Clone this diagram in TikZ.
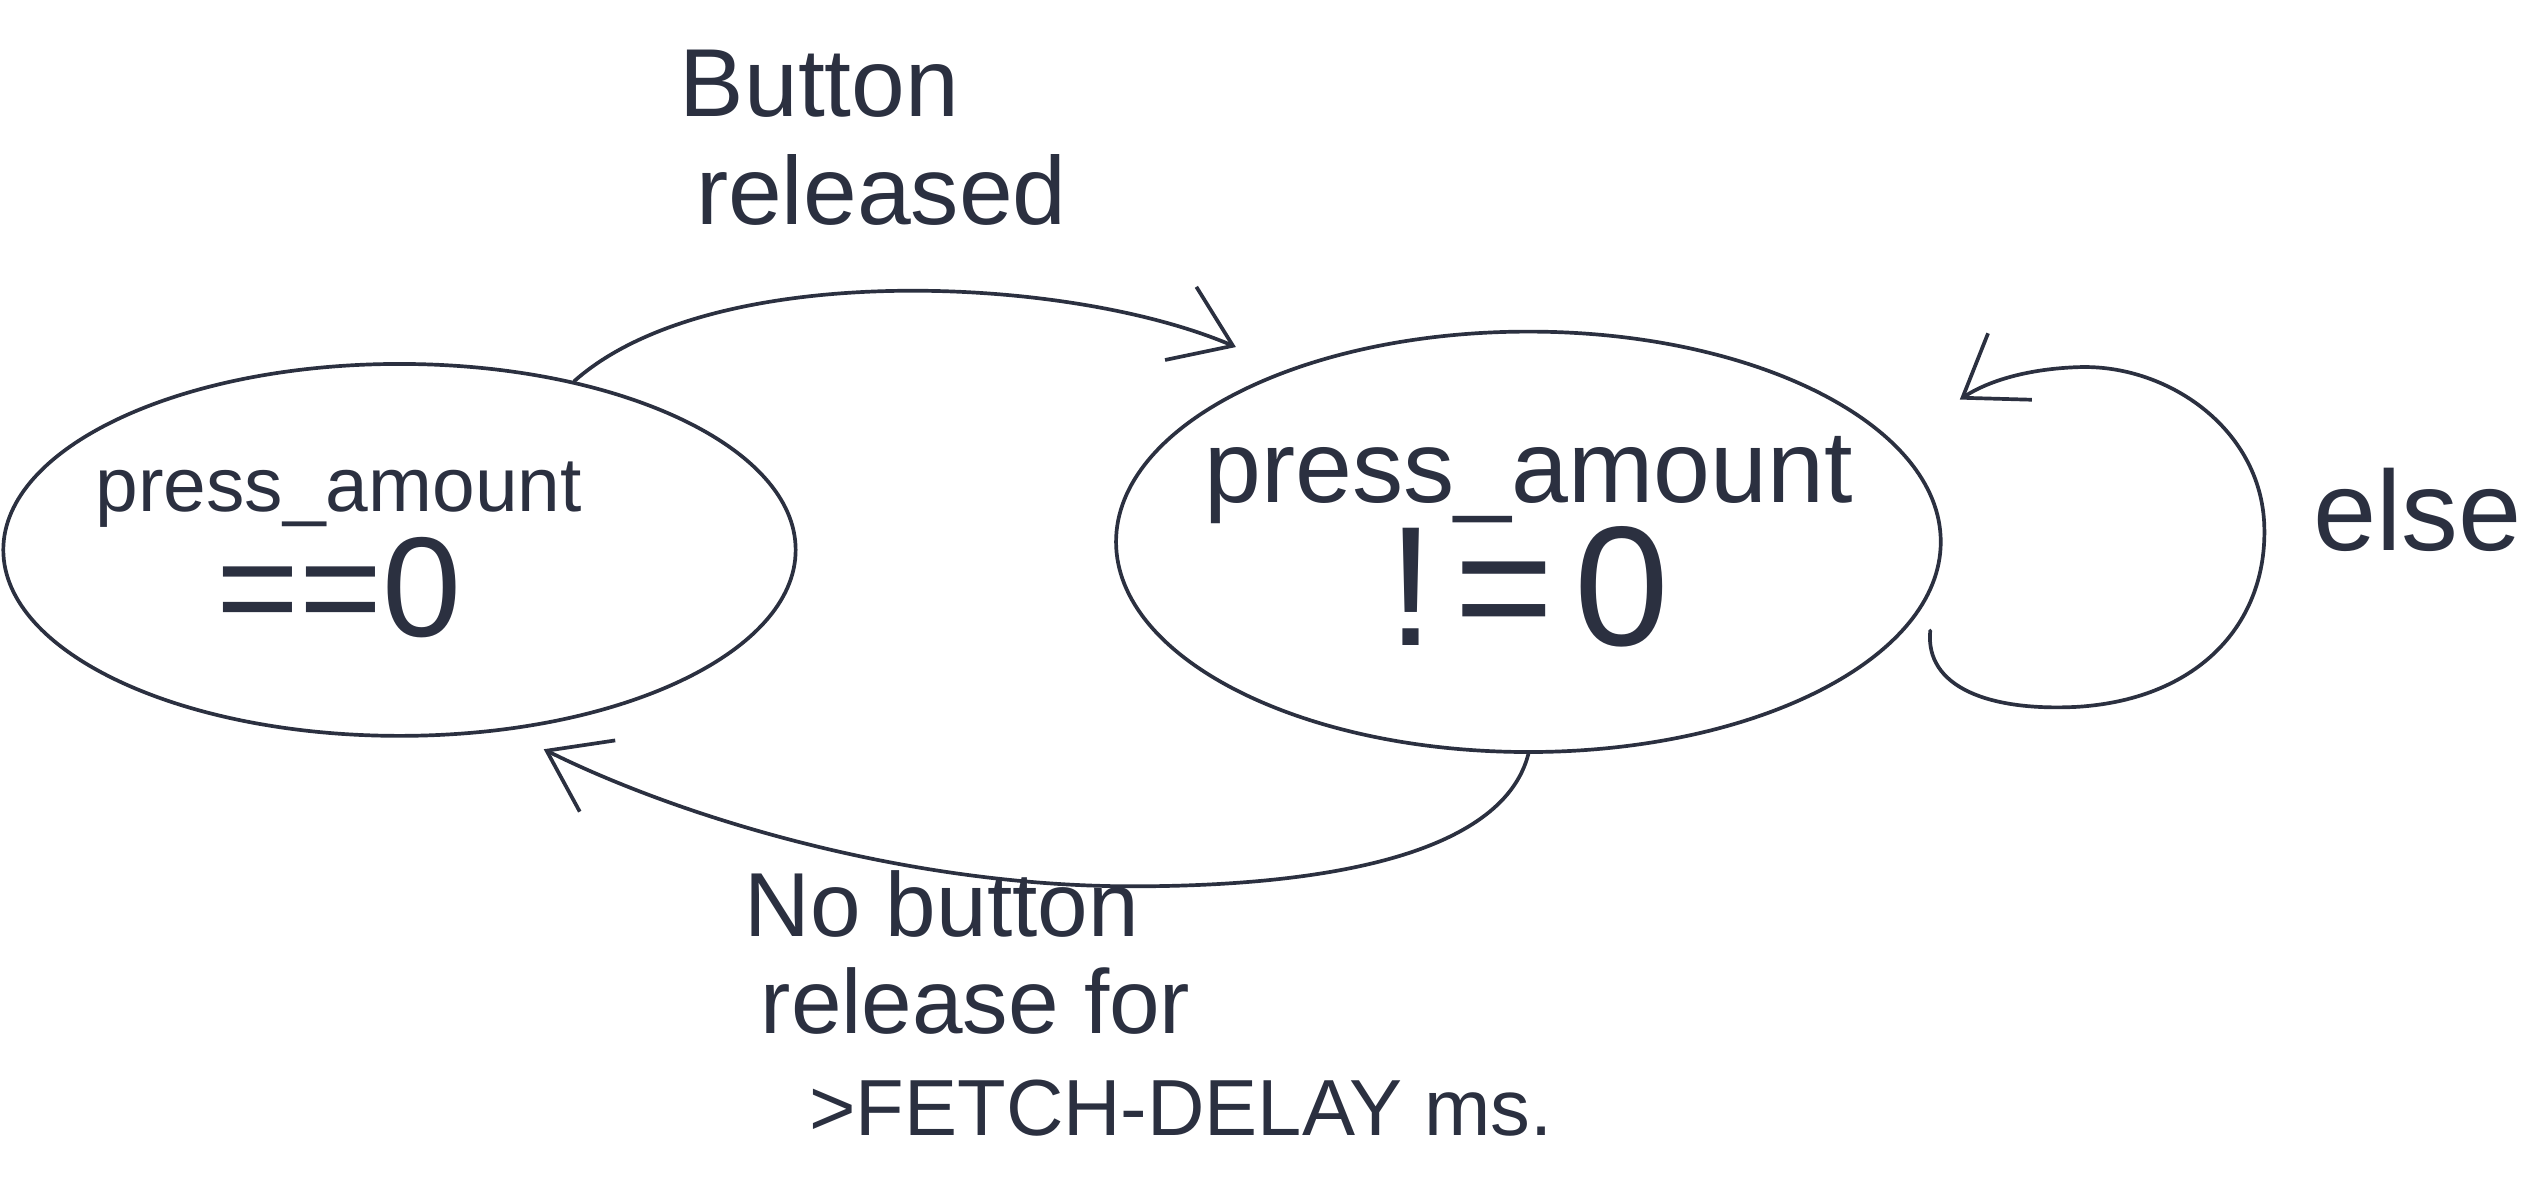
\documentclass[tikz,border=0pt]{standalone}
\usepackage{fontspec}
\setmainfont{Liberation Sans}
\usetikzlibrary{shapes.geometric,arrows.meta}
\definecolor{ink}{HTML}{2B3040}
\begin{document}
\begin{tikzpicture}[x=0.02cm,y=-0.02cm,
  state/.style={ellipse,draw=ink,line width=1.3pt,inner sep=0pt,align=center,text=ink},
  edge/.style={draw=ink,line width=1.3pt,line cap=round,-{Straight Barb[length=20pt,width=28pt,line width=1.3pt]}},
  lbl/.style={inner sep=0pt,text=ink,align=left}]
\useasboundingbox[fill=white] (0,0) rectangle (1568,740);

\node[state,minimum width=9.8cm,minimum height=4.6cm,inner xsep=-0.5cm,font=\fontsize{27}{44}\selectfont] (L) at (247,340)
  {press\_amount\hspace*{1.5cm}\\{\fontsize{50}{44}\selectfont ==0}\hspace*{1.5cm}};
\node[state,minimum width=10.2cm,minimum height=5.2cm,inner xsep=-0.45cm,font=\fontsize{36}{40}\selectfont] (R) at (945,335)
  {press\_amount\\{\fontsize{60}{40}\selectfont !\kern0.12em=\kern0.12em0}};

\coordinate (topend) at ([shift={(-26,-16)}]R.146);
\coordinate (botend) at ([shift={(12,13)}]L.305);
\coordinate (loopstart) at ([shift={(15,1)}]R.-13);
\coordinate (loopend) at ([shift={(58,-12)}]R.20);

\draw[edge] (L.44) .. controls (440,160) and (660,170) .. (topend);
\draw[edge] (R.270) .. controls (930,525) and (830,548) .. (700,548)
  .. controls (560,548) and (420,505) .. (botend);
\draw[edge] (loopstart) .. controls (1190,425) and (1230,440) .. (1285,437)
  .. controls (1360,432) and (1402,385) .. (1400,325)
  .. controls (1398,265) and (1340,225) .. (1285,227)
  .. controls (1255,228) and (1230,235) .. (loopend);

\node[lbl,anchor=west,font=\fontsize{34}{38}\selectfont] (tlab) at (420,85) {Button\\\hspace*{0.2cm}released};
\node[lbl,anchor=west,font=\fontsize{40}{40}\selectfont] (elab) at (1430,315) {else};
\node[lbl,anchor=north west,font=\fontsize{32}{34}\selectfont] (blab) at (460,538)
  {No button\\\hspace*{0.2cm}release for\\[2pt]\hspace*{0.8cm}{\fontsize{28}{34}\selectfont >FETCH-DELAY ms.}};
\end{tikzpicture}
\end{document}
